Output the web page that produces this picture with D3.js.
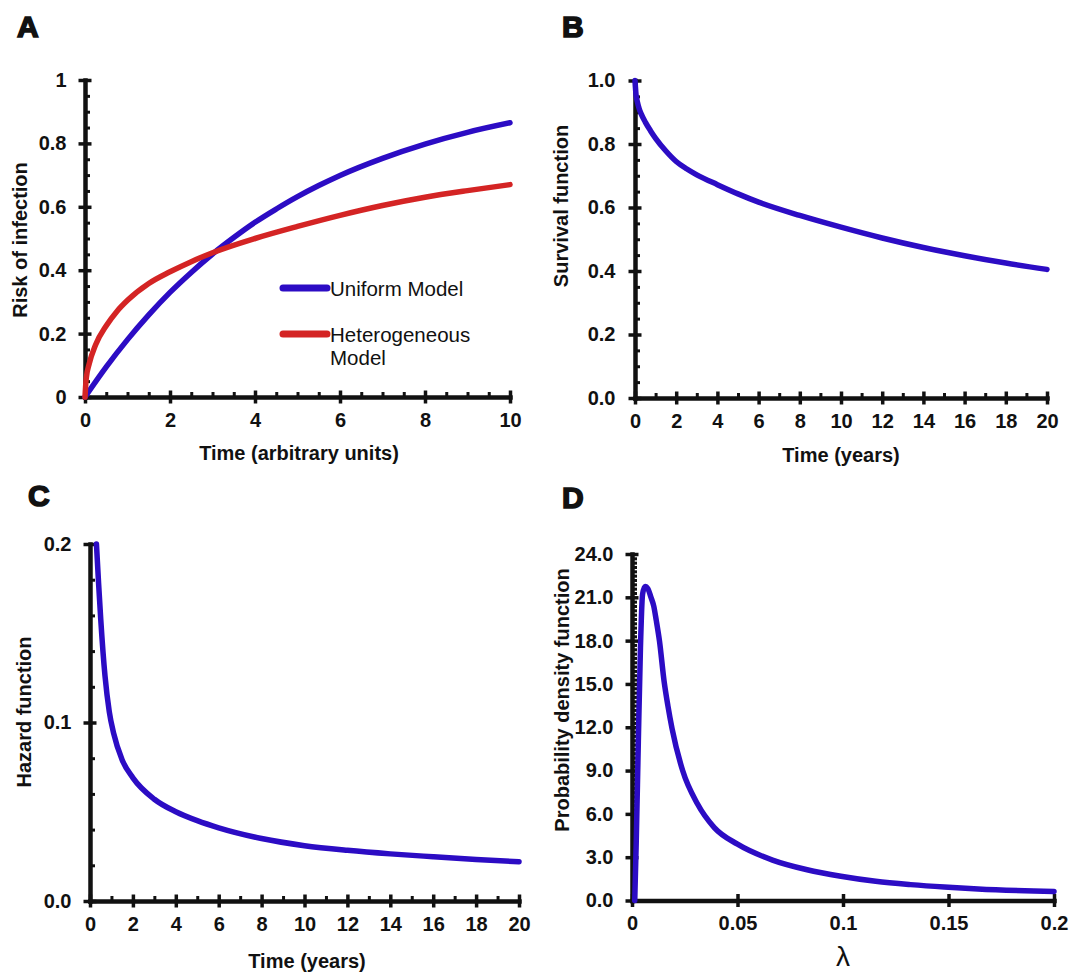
<!DOCTYPE html>
<html><head><meta charset="utf-8">
<script src="https://cdn.jsdelivr.net/npm/d3@7"></script>
<style>
body{margin:0;background:#fff}
svg text{font-family:"Liberation Sans",Arial,Helvetica,sans-serif;fill:#111}
</style>
</head><body>
<svg id="chart" width="1071" height="976"></svg>
<script>
// ---------- Panel A: risk of infection ----------
const timeUniform   = [0, 0.5, 1, 1.5, 2, 2.5, 3, 3.5, 4, 4.5, 5, 5.5, 6, 7, 8, 9, 10];
const riskUniform   = [0, 0.095, 0.181, 0.259, 0.33, 0.393, 0.451, 0.503, 0.551, 0.593, 0.632, 0.667, 0.699, 0.753, 0.798, 0.835, 0.865];
const timeHetero    = [0, 0.03, 0.1, 0.25, 0.5, 0.75, 1, 1.5, 2, 2.5, 3, 4, 5, 6, 7, 8, 9, 10];
const riskHetero    = [0, 0.06, 0.105, 0.165, 0.225, 0.27, 0.305, 0.358, 0.395, 0.427, 0.455, 0.50, 0.538, 0.573, 0.604, 0.63, 0.651, 0.67];
const seriesNames   = ["Uniform Model", "Heterogeneous Model"];
const aXTicks = [0, 2, 4, 6, 8, 10];
const aYTicks = [0, 0.2, 0.4, 0.6, 0.8, 1];
const aYLabels = ["0", "0.2", "0.4", "0.6", "0.8", "1"];

// ---------- Panel B: survival function ----------
const timeSurv  = [0, 0.05, 0.1, 0.2, 0.3, 0.5, 0.75, 1, 1.5, 2, 2.5, 3, 4, 5, 6, 8, 10, 12, 14, 16, 18, 20];
const survival  = [1.0, 0.955, 0.937, 0.912, 0.895, 0.869, 0.842, 0.818, 0.778, 0.745, 0.722, 0.703, 0.672, 0.643, 0.617, 0.575, 0.538, 0.504, 0.474, 0.448, 0.425, 0.405];
const bXTicks = [0, 2, 4, 6, 8, 10, 12, 14, 16, 18, 20];
const bYTicks = [0, 0.2, 0.4, 0.6, 0.8, 1.0];
const bYLabels = ["0.0", "0.2", "0.4", "0.6", "0.8", "1.0"];

// ---------- Panel C: hazard function ----------
const timeHaz = [0.3, 0.4, 0.5, 0.7, 0.9, 1.1, 1.5, 2, 3, 4, 5, 6, 8, 10, 12, 14, 16, 18, 20];
const hazard  = [0.2, 0.178, 0.158, 0.126, 0.106, 0.094, 0.079, 0.069, 0.057, 0.050, 0.045, 0.041, 0.035, 0.031, 0.0284, 0.0264, 0.0248, 0.0233, 0.022];
const cXTicks = [0, 2, 4, 6, 8, 10, 12, 14, 16, 18, 20];
const cYTicks = [0, 0.1, 0.2];
const cYLabels = ["0.0", "0.1", "0.2"];

// ---------- Panel D: probability density of lambda ----------
const lambdaVals = [0.0013, 0.002, 0.003, 0.004, 0.005, 0.0062, 0.0075, 0.009, 0.0103, 0.0115, 0.013, 0.0152, 0.017, 0.019, 0.024, 0.031, 0.039, 0.050, 0.0666, 0.083, 0.099, 0.1155, 0.132, 0.148, 0.164, 0.2];
const density    = [0, 4, 11, 17.5, 21.2, 21.75, 21.6, 21.0, 20.4, 19.4, 18.0, 15.2, 13.5, 11.9, 9.0, 6.7, 5.05, 3.9, 2.8, 2.13, 1.68, 1.33, 1.1, 0.93, 0.8, 0.62];
const dXTicks = [0, 0.05, 0.1, 0.15, 0.2];
const dXLabels = ["0", "0.05", "0.1", "0.15", "0.2"];
const dYTicks = [0, 3, 6, 9, 12, 15, 18, 21, 24];
const dYLabels = ["0.0", "3.0", "6.0", "9.0", "12.0", "15.0", "18.0", "21.0", "24.0"];

const BLUE = "#2c0cc4", RED = "#d42424", INK = "#111";
const svg = d3.select("#chart");
const TICK_FS = 20, TITLE_FS = 20;

function range(a, b, step) { return d3.range(Math.round((b - a) / step) + 1).map(i => +(a + i * step).toFixed(6)); }

function panel(cfg) {
  const g = svg.append("g");
  const x = d3.scaleLinear().domain(cfg.xDomain).range([cfg.left, cfg.right]);
  const y = d3.scaleLinear().domain(cfg.yDomain).range([cfg.bottom, cfg.top]);

  // minor ticks (inside)
  const minY = range(cfg.yDomain[0], cfg.yDomain[1], cfg.yMinor).filter(v => !cfg.yTicks.some(t => Math.abs(t - v) < 1e-9));
  g.append("g").attr("transform", `translate(${cfg.left},0)`)
    .call(d3.axisRight(y).tickValues(minY).tickSize(5).tickFormat(""))
    .call(s => s.select(".domain").remove())
    .call(s => s.selectAll(".tick line").attr("stroke", INK).attr("stroke-width", 3));
  if (cfg.xMinor) {
    const minX = range(cfg.xDomain[0], cfg.xDomain[1], cfg.xMinor).filter(v => !cfg.xTicks.some(t => Math.abs(t - v) < 1e-9));
    g.append("g").attr("transform", `translate(0,${cfg.bottom})`)
      .call(d3.axisTop(x).tickValues(minX).tickSize(5).tickFormat(""))
      .call(s => s.select(".domain").remove())
      .call(s => s.selectAll(".tick line").attr("stroke", INK).attr("stroke-width", 3));
  }

  // major axes
  const yl = cfg.yLabels;
  g.append("g").attr("transform", `translate(${cfg.left},0)`)
    .call(d3.axisLeft(y).tickValues(cfg.yTicks).tickSize(6.5).tickSizeOuter(0).tickPadding(cfg.yPad)
      .tickFormat((d, i) => yl[i]))
    .call(s => s.select(".domain").attr("stroke", INK).attr("stroke-width", 4.5).attr("stroke-linecap", "square"))
    .call(s => s.selectAll(".tick line").attr("x1", 6.5).attr("stroke", INK).attr("stroke-width", 3.5))
    .call(s => s.selectAll(".tick text").attr("font-size", TICK_FS).attr("font-weight", "bold")
      .attr("font-family", "Liberation Sans, Arial, sans-serif").attr("fill", INK));
  const xl = cfg.xLabels;
  g.append("g").attr("transform", `translate(0,${cfg.bottom})`)
    .call(d3.axisBottom(x).tickValues(cfg.xTicks).tickSize(6.5).tickSizeOuter(0).tickPadding(9)
      .tickFormat((d, i) => xl ? xl[i] : String(d)))
    .call(s => s.select(".domain").attr("stroke", INK).attr("stroke-width", 4.5).attr("stroke-linecap", "square"))
    .call(s => s.selectAll(".tick line").attr("y1", -6.5).attr("stroke", INK).attr("stroke-width", 3.5))
    .call(s => s.selectAll(".tick text").attr("font-size", TICK_FS).attr("font-weight", "bold")
      .attr("font-family", "Liberation Sans, Arial, sans-serif").attr("fill", INK));

  // series
  cfg.series.forEach(sr => {
    const pts = sr.xs.map((v, i) => [v, sr.ys[i]]);
    g.append("path").datum(pts)
      .attr("fill", "none").attr("stroke", sr.color).attr("stroke-width", 5.5)
      .attr("stroke-linecap", "round").attr("stroke-linejoin", "round")
      .attr("d", d3.line().x(d => x(d[0])).y(d => y(d[1])).curve(d3.curveMonotoneX));
  });

  // titles
  g.append("text").attr("x", cfg.xTitlePos[0]).attr("y", cfg.xTitlePos[1])
    .attr("text-anchor", "middle").attr("font-weight", cfg.xTitleBold === false ? "normal" : "bold")
    .attr("font-size", cfg.xTitleSize || TITLE_FS).text(cfg.xTitle);
  g.append("text").attr("transform", `translate(${cfg.yTitlePos[0]},${cfg.yTitlePos[1]}) rotate(-90)`)
    .attr("text-anchor", "middle").attr("dominant-baseline", "central")
    .attr("font-weight", "bold").attr("font-size", TITLE_FS).text(cfg.yTitle);
  g.append("text").attr("x", cfg.letterPos[0]).attr("y", cfg.letterPos[1])
    .attr("font-weight", "bold").attr("font-size", 30).attr("stroke", INK).attr("stroke-width", 1.6)
    .text(cfg.letter);
  return {g, x, y};
}

// Panel A
const pA = panel({
  letter: "A", letterPos: [17, 37],
  left: 85, right: 510, top: 80, bottom: 397,
  xDomain: [0, 10], yDomain: [0, 1],
  xTicks: aXTicks, yTicks: aYTicks, yLabels: aYLabels, xMinor: 0.5, yMinor: 0.05, yPad: 12,
  xTitle: "Time (arbitrary units)", xTitlePos: [299, 460],
  yTitle: "Risk of infection", yTitlePos: [20, 240],
  series: [{xs: timeUniform, ys: riskUniform, color: BLUE}, {xs: timeHetero, ys: riskHetero, color: RED}]
});
// legend
const legend = pA.g.append("g");
[[BLUE, 288, [seriesNames[0]]], [RED, 334, ["Heterogeneous", "Model"]]].forEach(([c, yy, lines]) => {
  legend.append("line").attr("x1", 283).attr("x2", 327).attr("y1", yy).attr("y2", yy)
    .attr("stroke", c).attr("stroke-width", 7).attr("stroke-linecap", "round");
  lines.forEach((t, i) => legend.append("text").attr("x", 330).attr("y", yy + i * 23)
    .attr("dominant-baseline", "central").attr("font-size", 20.5).text(t));
});

// Panel B
panel({
  letter: "B", letterPos: [562, 37],
  left: 635, right: 1047, top: 80.5, bottom: 398,
  xDomain: [0, 20], yDomain: [0, 1],
  xTicks: bXTicks, yTicks: bYTicks, yLabels: bYLabels, xMinor: 1, yMinor: 0.05, yPad: 13,
  xTitle: "Time (years)", xTitlePos: [841, 462],
  yTitle: "Survival function", yTitlePos: [561, 206],
  series: [{xs: timeSurv, ys: survival, color: BLUE}]
});

// Panel C
panel({
  letter: "C", letterPos: [28, 506],
  left: 90, right: 519, top: 544, bottom: 901,
  xDomain: [0, 20], yDomain: [0, 0.2],
  xTicks: cXTicks, yTicks: cYTicks, yLabels: cYLabels, xMinor: 1, yMinor: 0.02, yPad: 12,
  xTitle: "Time (years)", xTitlePos: [307, 968],
  yTitle: "Hazard function", yTitlePos: [24, 712],
  series: [{xs: timeHaz, ys: hazard, color: BLUE}]
});

// Panel D
panel({
  letter: "D", letterPos: [562, 508],
  left: 632, right: 1054, top: 554, bottom: 900.5,
  xDomain: [0, 0.2], yDomain: [0, 24],
  xTicks: dXTicks, xLabels: dXLabels, yTicks: dYTicks, yLabels: dYLabels, xMinor: null, yMinor: 0.3, yPad: 12,
  xTitle: "λ", xTitlePos: [843, 966], xTitleBold: false, xTitleSize: 28,
  yTitle: "Probability density function", yTitlePos: [562, 700],
  series: [{xs: lambdaVals, ys: density, color: BLUE}]
});
</script>
</body></html>
